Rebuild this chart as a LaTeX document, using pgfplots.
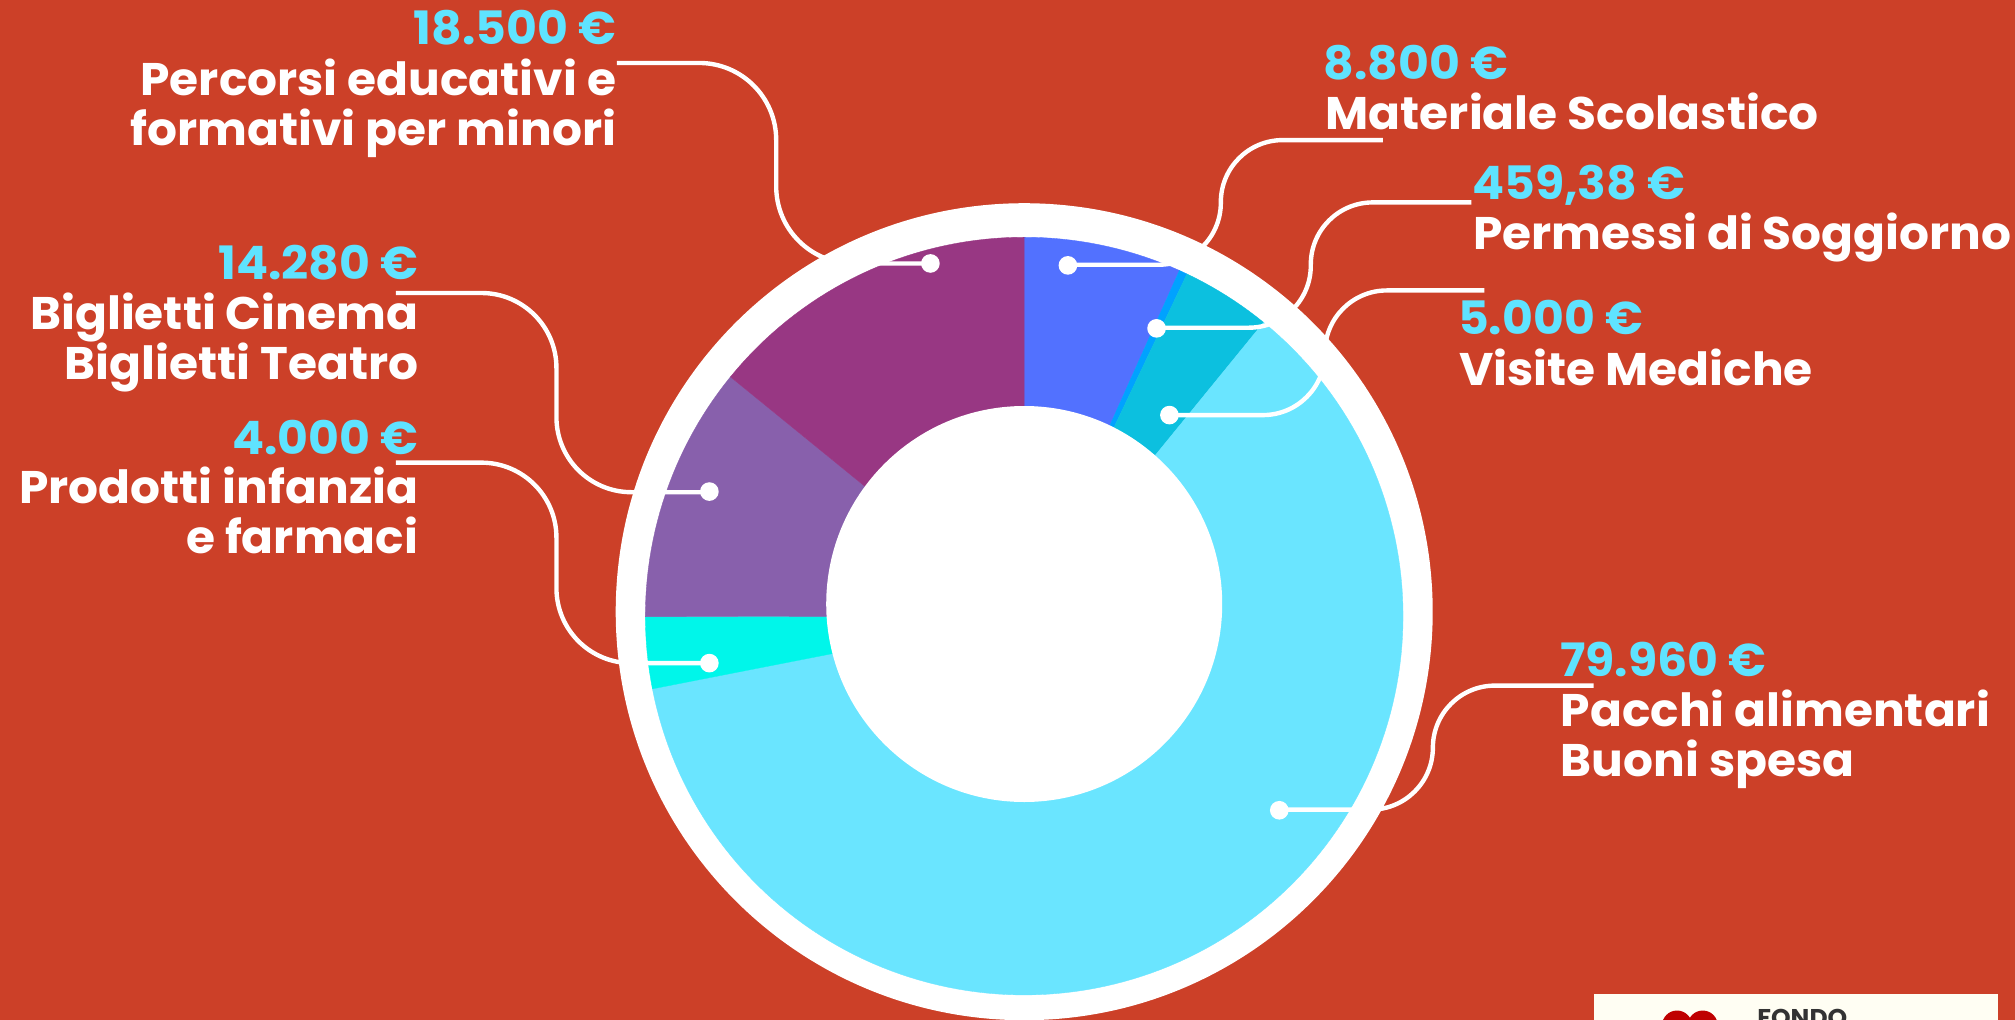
\documentclass[border=0pt]{standalone}
\usepackage{fontspec}
\setmainfont{Poppins}[BoldFeatures={FakeStretch=1.03}]
\usepackage{pgfplots}
\pgfplotsset{compat=1.18}

\definecolor{bgred}{HTML}{CC4028}
\definecolor{valcol}{HTML}{5FE3FF}
\definecolor{cMat}{HTML}{5271FF}
\definecolor{cPerm}{HTML}{00A2FF}
\definecolor{cVis}{HTML}{0CC0DF}
\definecolor{cPac}{HTML}{6AE5FF}
\definecolor{cProd}{HTML}{00F6EA}
\definecolor{cBig}{HTML}{8860AC}
\definecolor{cPerc}{HTML}{983783}

% axis units are reference pixels / 1.285, y running downwards
\def\total{130999.38}
\def\cum{0}
\newcommand{\slice}[2]{%
  \xdef\pts{(797,479.4)}%
  \edef\from{\fpeval{360*\cum/\total}}%
  \edef\span{\fpeval{360*#1/\total}}%
  \edef\n{\fpeval{ceil(\span/1.5)}}%
  \foreach \i in {0,...,\n}{%
    \edef\ang{\fpeval{\from+\span*\i/\n}}%
    \xdef\pts{\pts (\fpeval{round(797+294.8*sind(\ang),3)},\fpeval{round(479.4-294.8*cosd(\ang),3)})}%
  }%
  \edef\doit{\noexpand\addplot[fill=#2,draw=#2,line width=0.1pt] coordinates {\pts} -- cycle;}%
  \doit
  \xdef\cum{\fpeval{\cum+#1}}%
}
\newcommand{\val}[3]{\node[anchor=#1,text=valcol,inner sep=0pt] at (axis cs:#2) {\fontsize{13.1}{13}\selectfont\bfseries #3};}
\newcommand{\lab}[3]{\node[anchor=#1,text=white,inner sep=0pt] at (axis cs:#2) {\fontsize{13}{13}\selectfont\bfseries #3};}
\tikzset{leader/.style={white,line width=1.25pt,rounded corners=#1}}

\begin{document}
\begin{tikzpicture}
\clip (0,0) rectangle (20.15,10.2);
\begin{axis}[
    at={(0,0)},anchor=south west,
    scale only axis,
    width=20.15cm,height=10.2cm,
    xmin=0,xmax=1568,
    ymin=0,ymax=793.7,
    y dir=reverse,
    hide axis,
]
\addplot[fill=bgred,draw=none] coordinates {(0,0) (1568,0) (1568,793.7) (0,793.7)} -- cycle;
\fill[white] (axis cs:797,476) circle[radius=4.085cm];

\slice{8800}{cMat}
\slice{459.38}{cPerm}
\slice{5000}{cVis}
\slice{79960}{cPac}
\slice{4000}{cProd}
\slice{14280}{cBig}
\slice{18500}{cPerc}

\fill[white] (axis cs:797,470) circle[radius=1.98cm];

% leaders
\addplot[leader=0.77cm] coordinates {(480,49) (604,49) (604,205) (724,205)};
\addplot[leader=0.62cm] coordinates {(831,206) (950,206) (950,109) (1076,109)};
\addplot[leader=0.62cm] coordinates {(900,255) (1020,255) (1020,157.5) (1145,157.5)};
\addplot[leader=0.62cm] coordinates {(910,323) (1031,323) (1031,226) (1155,226)};
\addplot[leader=0.62cm] coordinates {(995,630) (1115,630) (1115,533.5) (1240,533.5)};
\addplot[leader=0.75cm] coordinates {(308,228) (433,228) (433,383) (552,383)};
\addplot[leader=0.75cm] coordinates {(308,360) (433,360) (433,516) (552,516)};
\addplot[only marks,mark=*,mark size=2.45pt,color=white] coordinates {
  (724,205) (831,206.5) (900,255.5) (910,323) (995.5,630.5) (552,382.5) (552,516)};

% labels
\val{base east}{480,34.5}{18.500 €}
\lab{base east}{480,74}{Percorsi educativi e}
\lab{base east}{480,113}{formativi per minori}
\val{base east}{326,217.5}{14.280 €}
\lab{base east}{326,256.5}{Biglietti Cinema}
\lab{base east}{326,295.5}{Biglietti Teatro}
\val{base east}{326,353.5}{4.000 €}
\lab{base east}{326,392}{Prodotti infanzia}
\lab{base east}{326,431}{e farmaci}
\val{base west}{1029.5,61.5}{8.800 €}
\lab{base west}{1031,101}{Materiale Scolastico}
\val{base west}{1145,155.5}{459,38 €}
\lab{base west}{1146,194}{Permessi di Soggiorno}
\val{base west}{1134,260.5}{5.000 €}
\lab{base west}{1135,300}{Visite Mediche}
\val{base west}{1213.5,526.5}{79.960 €}
\lab{base west}{1214,565}{Pacchi alimentari}
\lab{base west}{1214,604}{Buoni spesa}

% logo box, cut by the lower edge
\addplot[fill={rgb,255:red,255;green,254;blue,243},draw=none] coordinates {(1240,773.5) (1555,773.5) (1555,793.7) (1240,793.7)} -- cycle;
\fill[red!75!black] (axis cs:1305,798) circle[radius=0.15cm];
\fill[red!75!black] (axis cs:1325,798) circle[radius=0.15cm];
\node[anchor=base west,inner sep=0pt,text=black!80] at (axis cs:1367,799) {\fontsize{6.9}{7}\selectfont\bfseries FONDO};
\end{axis}
\end{tikzpicture}
\end{document}
